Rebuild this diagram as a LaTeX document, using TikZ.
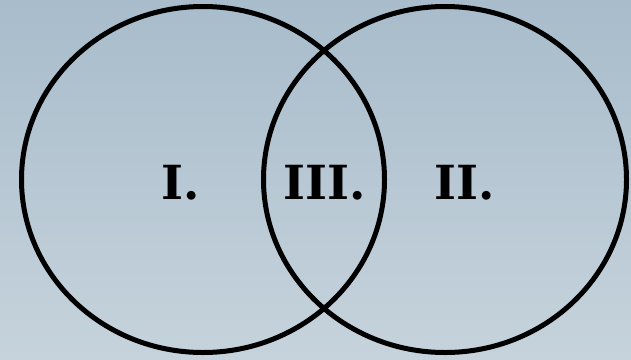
\documentclass[tikz,border=0pt]{standalone}
\usepackage{fontspec}
\newfontfamily\labelfont{DejaVu Serif}
\definecolor{bgtop}{RGB}{168,188,203}
\definecolor{bgbot}{RGB}{198,211,220}
\tikzset{
  venn/.style={draw=black, line width=5pt},
  region/.style={font=\labelfont\bfseries\fontsize{47}{47}\selectfont, inner sep=0pt, anchor=base}
}
\begin{document}
\begin{tikzpicture}[x=1pt,y=-1pt]
\shade[top color=bgtop, bottom color=bgbot] (0,0) rectangle (631,359);
\useasboundingbox (0,0) rectangle (631,359);
\draw[venn] (203,179.5) ellipse [x radius=181.5, y radius=173];
\draw[venn] (445,179.5) ellipse [x radius=181.5, y radius=173];
\node[region] (one) at (181,199) {I.};
\node[region] (three) at (324.5,199) {III.};
\node[region] (two) at (464.5,199) {II.};
\end{tikzpicture}
\end{document}
